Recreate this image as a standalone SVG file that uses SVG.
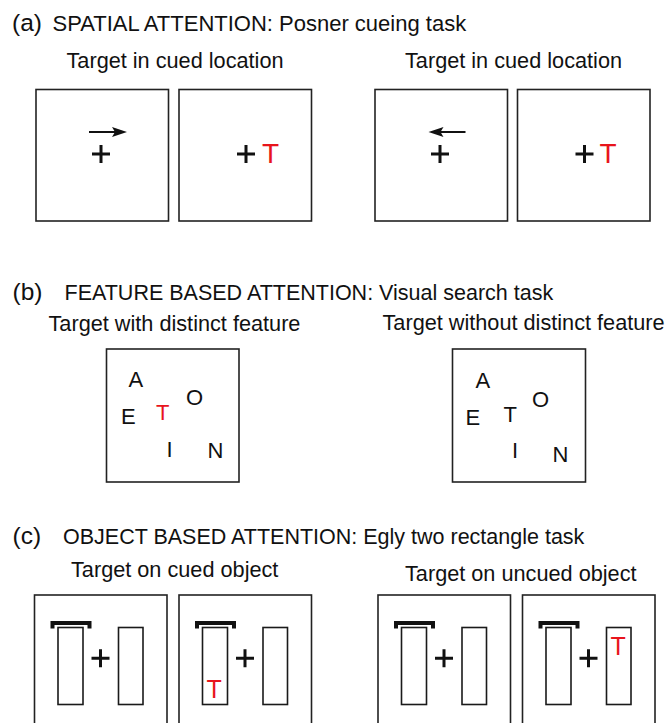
<svg xmlns="http://www.w3.org/2000/svg" xmlns:xlink="http://www.w3.org/1999/xlink" width="668" height="723" viewBox="0 0 668 723">
<style>
  text { font-family: "Liberation Sans", Arial, Helvetica, sans-serif; fill: #111; }
  .lbl { font-size: 24.5px; }
  .ttl { font-size: 21.5px; }
  .ttlA { font-size: 22px; }
  .sub { font-size: 21.7px; }
  .let { font-size: 22px; }
  .red { fill: #e8141c; }
  .tgt { font-size: 28px; }
  .tgt2 { font-size: 25px; }
  .frame { fill: none; stroke: #222; stroke-width: 1.6; }
  .obj { fill: none; stroke: #1a1a1a; stroke-width: 1.6; }
  .plus { fill: none; stroke: #111; stroke-width: 3; }
  .brk { fill: none; stroke: #111; stroke-width: 4; }
  .cue { stroke: #111; stroke-width: 2; fill: none; }
  .head { fill: #111; stroke: none; }
</style>
<defs>
  <path id="plusA" class="plus" d="M-9,0 H9 M0,-9 V9"/>
  <g id="egly">
    <rect class="frame" x="0" y="0" width="132.5" height="145"/>
    <path class="brk" d="M18,33.5 V28 H55 V33.5"/>
    <rect class="obj" x="23.5" y="32.5" width="25" height="77"/>
    <path class="plus" d="M57,63.3 H75 M66,54.3 V72.3"/>
    <rect class="obj" x="84" y="32.5" width="24.5" height="77"/>
  </g>
</defs>

<!-- Panel (a) -->
<g id="panel-a-title">
  <text class="lbl" x="12" y="31">(a)</text>
  <text class="ttlA" x="52.5" y="31">SPATIAL ATTENTION: Posner cueing task</text>
</g>
<g id="a-sub-left"><text class="sub" x="66.5" y="68">Target in cued location</text></g>
<g id="a-sub-right"><text class="sub" x="405" y="68">Target in cued location</text></g>

<g id="a-box1">
  <rect class="frame" x="36" y="89.5" width="132.5" height="131.5"/>
  <line class="cue" x1="89" y1="132" x2="116" y2="132"/>
  <polygon class="head" points="127,132 112,127 115,132 112,137"/>
  <use xlink:href="#plusA" x="101" y="154"/>
</g>
<g id="a-box2">
  <rect class="frame" x="179" y="89.5" width="132.5" height="131.5"/>
  <use xlink:href="#plusA" x="246" y="154"/>
  <text class="tgt red" x="262" y="163">T</text>
</g>
<g id="a-box3">
  <rect class="frame" x="375" y="89.5" width="132.5" height="131.5"/>
  <line class="cue" x1="440" y1="132" x2="465.5" y2="132"/>
  <polygon class="head" points="428.5,132 443.5,127 440.5,132 443.5,137"/>
  <use xlink:href="#plusA" x="440" y="154"/>
</g>
<g id="a-box4">
  <rect class="frame" x="517.5" y="89.5" width="132.5" height="131.5"/>
  <use xlink:href="#plusA" x="584.5" y="154"/>
  <text class="tgt red" x="599.5" y="163">T</text>
</g>

<!-- Panel (b) -->
<g id="panel-b-title">
  <text class="lbl" x="12.5" y="300">(b)</text>
  <text class="ttl" x="64.5" y="300">FEATURE BASED ATTENTION: Visual search task</text>
</g>
<g id="b-sub-left"><text class="sub" x="48.5" y="331">Target with distinct feature</text></g>
<g id="b-sub-right"><text class="sub" x="382.5" y="330">Target without distinct feature</text></g>

<g id="b-box1">
  <rect class="frame" x="106.5" y="349" width="132.5" height="133"/>
  <text class="let" x="128.5" y="387">A</text>
  <text class="let" x="121" y="423.5">E</text>
  <text class="let red" x="156" y="420">T</text>
  <text class="let" x="186" y="405">O</text>
  <text class="let" x="166.5" y="457">I</text>
  <text class="let" x="207.5" y="458">N</text>
</g>
<g id="b-box2">
  <rect class="frame" x="452.5" y="349" width="133" height="133"/>
  <text class="let" x="475.5" y="388">A</text>
  <text class="let" x="465.5" y="425">E</text>
  <text class="let" x="503.5" y="421.5">T</text>
  <text class="let" x="532" y="406.5">O</text>
  <text class="let" x="512" y="458">I</text>
  <text class="let" x="552.5" y="461.5">N</text>
</g>

<!-- Panel (c) -->
<g id="panel-c-title">
  <text class="lbl" x="12.5" y="544">(c)</text>
  <text class="ttl" x="63" y="544">OBJECT BASED ATTENTION: Egly two rectangle task</text>
</g>
<g id="c-sub-left"><text class="sub" x="71" y="577">Target on cued object</text></g>
<g id="c-sub-right"><text class="sub" x="405" y="581">Target on uncued object</text></g>

<g id="c-box1"><use xlink:href="#egly" transform="translate(34.5,595)"/></g>
<g id="c-box2">
  <use xlink:href="#egly" transform="translate(179,595)"/>
  <text class="tgt2 red" x="206.5" y="698">T</text>
</g>
<g id="c-box3"><use xlink:href="#egly" transform="translate(378,595)"/></g>
<g id="c-box4">
  <use xlink:href="#egly" transform="translate(522.5,595)"/>
  <text class="tgt2 red" x="610.5" y="655">T</text>
</g>

<g id="connectors"/>
</svg>
